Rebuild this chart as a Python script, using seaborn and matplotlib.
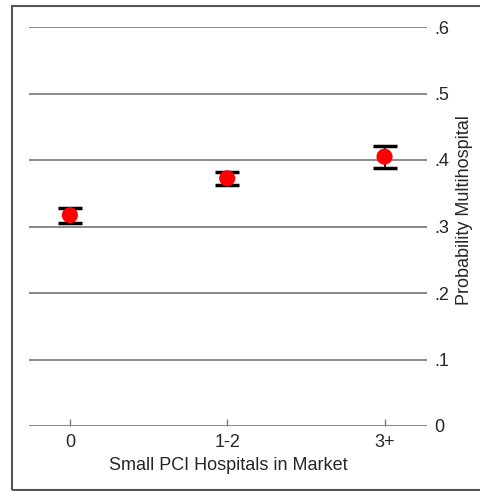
import numpy as np
import pandas as pd
import seaborn as sns
import matplotlib.pyplot as plt
from matplotlib.patches import Rectangle

# predicted probability by number of small PCI hospitals in market
groups = ["0", "1-2", "3+"]
prob = [0.317, 0.3725, 0.405]
ci_low = [0.3057, 0.3624, 0.3875]
ci_high = [0.3275, 0.3825, 0.4215]
yticks = [0, 0.1, 0.2, 0.3, 0.4, 0.5, 0.6]
ytick_labels = ["0", ".1", ".2", ".3", ".4", ".5", ".6"]

df = pd.DataFrame({"pos": np.arange(len(groups)), "prob": prob,
                   "lo": ci_low, "hi": ci_high})

sns.set_style("white")
plt.rcParams['font.family'] = ['Liberation Sans', 'DejaVu Sans']

W, H = 481, 491
fs = 13
fig = plt.figure(figsize=(W / 100, H / 100), dpi=100)
ax = fig.add_axes([29 / W, 1 - 426 / H, (427 - 29) / W, (426 - 27) / H])

grid_c = "#7f7f7f"
for v in yticks:
    ax.axhline(v, color=grid_c, lw=1.3, zorder=0)

ax.errorbar(df["pos"], df["prob"],
            yerr=[df["prob"] - df["lo"], df["hi"] - df["prob"]],
            fmt="none", ecolor="black", elinewidth=1.2,
            capsize=8.3, capthick=2.5, zorder=2)
sns.scatterplot(data=df, x="pos", y="prob", color="red", s=135,
                edgecolor="none", ax=ax, zorder=3)

ax.set_xlim(-0.26, 2.27)
ax.set_ylim(0, 0.6)
ax.set_xticks(df["pos"])
ax.set_xticklabels(groups)
ax.set_yticks(yticks)
ax.set_yticklabels(ytick_labels)
ax.yaxis.tick_right()
ax.tick_params(axis="y", length=0, pad=5, labelsize=fs)
ax.tick_params(axis="x", bottom=True, direction="in", length=5, width=1,
               color=grid_c, pad=5.5, labelsize=fs)
for s in ["top", "left", "right", "bottom"]:
    ax.spines[s].set_visible(False)
ax.set_xlabel("Small PCI Hospitals in Market", fontsize=fs, labelpad=4.5)
ax.set_ylabel("")
fig.text(465 / W, 1 - 210 / H, "Probability Multihospital", rotation=90,
         ha="center", va="center", fontsize=fs)

fig.patches.append(Rectangle((12 / W, 1 - 490 / H), (490 - 12) / W, (490 - 6) / H,
                             transform=fig.transFigure, fill=False,
                             edgecolor="#555555", lw=1.5))

fig.savefig("out.png", dpi=100)
